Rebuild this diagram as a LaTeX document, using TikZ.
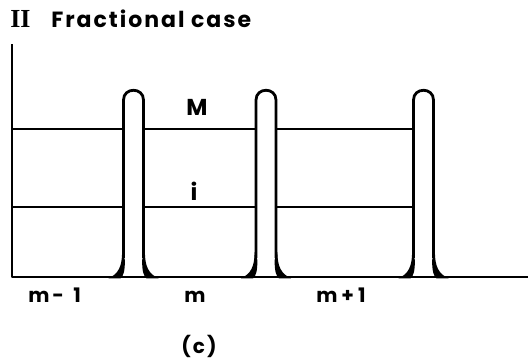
\documentclass[tikz,border=0pt]{standalone}
\usepackage{fontspec}
\setmainfont{Poppins}
\newfontfamily\romfont{Liberation Serif}
\begin{document}
\begin{tikzpicture}[x=1pt,y=-1pt,line width=2.6pt,line join=round]
\useasboundingbox (0,0) rectangle (529,362);
\tikzset{
  lab/.style={font=\bfseries\fontsize{20}{20}\selectfont,anchor=base,inner sep=0pt},
  big/.style={font=\bfseries\fontsize{23}{23}\selectfont,anchor=base,inner sep=0pt},
  ttl/.style={font=\bfseries\fontsize{22}{22}\selectfont\addfontfeature{LetterSpace=9},anchor=base west,inner sep=0pt},
  lvl/.style={line width=2.4pt},
  wall/.style={line width=2.8pt},
  flare/.style={fill=black}
}
% title
\node[anchor=base west,inner sep=0pt,font=\romfont\bfseries\fontsize{26}{26}\selectfont] (num) at (9,27) {II};
\node[ttl] (title) at (50,27) {Fractional case};
% axes
\coordinate (axtop) at (12,44);
\coordinate (axbot) at (12,277);
\coordinate (axend) at (528,277);
\draw (axtop) -- (axbot) -- (axend);
% barriers
\foreach \n/\c in {1/133.5,2/266,3/423.5}{
  \draw[wall] (\c-10,258) -- (\c-10,100) .. controls (\c-10,87) and (\c+10,87) .. (\c+10,100) -- (\c+10,258);
  \fill[flare] (\c-11.4,252) .. controls (\c-11.4,266) and (\c-15,274) .. (\c-25,278.3)
     -- (\c-13,278.3) .. controls (\c-10,276) and (\c-8.6,271) .. (\c-8.6,260) -- cycle;
  \fill[flare] (\c+11.4,252) .. controls (\c+11.4,266) and (\c+15,274) .. (\c+25,278.3)
     -- (\c+13,278.3) .. controls (\c+10,276) and (\c+8.6,271) .. (\c+8.6,260) -- cycle;
}
\coordinate (b1l) at (123.5,0); \coordinate (b1r) at (143.5,0);
\coordinate (b2l) at (256,0); \coordinate (b2r) at (276,0);
\coordinate (b3l) at (413.5,0);
% levels
\foreach \y in {129,207}{
  \draw[lvl] (12,\y) -- (b1l |- 0,\y);
  \draw[lvl] (b1r |- 0,\y) -- (b2l |- 0,\y);
  \draw[lvl] (b2r |- 0,\y) -- (b3l |- 0,\y);
}
% labels
\node[big] (M) at (197,115) {M};
\node[big] (i) at (194,200) {i};
\node[lab,anchor=base west] (mm) at (27,302) {m\hspace{3pt}−\hspace{10pt}1};
\node[lab] (m) at (195,302) {m};
\node[lab,anchor=base west] (mp) at (315,302) {m\hspace{4pt}+\hspace{4pt}1};
\node[lab] (c) at (199,353) {(\hspace{2pt}c\hspace{2pt})};
\end{tikzpicture}
\end{document}
